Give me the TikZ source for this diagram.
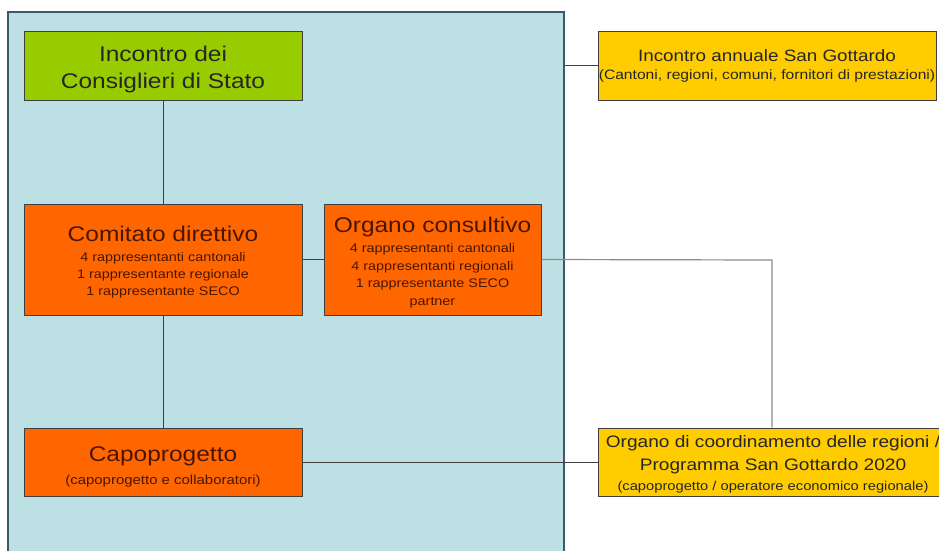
\documentclass[tikz,border=0pt]{standalone}
\usepackage{fontspec}
\setmainfont{Liberation Sans}[FakeStretch=1.15]

\definecolor{panelblue}{HTML}{BDE0E4}
\definecolor{paneledge}{HTML}{3E5866}
\definecolor{boxgreen}{HTML}{99CC00}
\definecolor{boxorange}{HTML}{FF6600}
\definecolor{boxyellow}{HTML}{FFCC00}
\definecolor{inkbrown}{HTML}{4A1600}

\tikzset{
  box/.style={draw=black!75, line width=1pt, inner sep=0pt, align=center},
  greenbox/.style={box, fill=boxgreen, text=black!85},
  orangebox/.style={box, fill=boxorange, text=inkbrown},
  yellowbox/.style={box, fill=boxyellow, text=black!85},
  link/.style={line width=1pt, draw=black!75}
}

\newcommand{\boxtitle}[1]{{\fontsize{21.3}{24}\selectfont #1}}
\newcommand{\lift}[1]{\rule{0pt}{#1}}

\begin{document}
\begin{tikzpicture}[x=1pt,y=-1pt]
  \useasboundingbox (0,0) rectangle (939,551);
  \clip (0,0) rectangle (939,551);

  % blue panel
  \node[draw=paneledge, fill=panelblue, line width=1.2pt, minimum width=556pt,
        minimum height=588pt, inner sep=0pt] (panel) at (286,306) {};

  \node[greenbox, minimum width=278pt, minimum height=68pt,
        font=\fontsize{21.3}{27}\selectfont] (incontro) at (163,66)
    {\lift{21.5pt}Incontro dei\\Consiglieri di Stato};

  \node[orangebox, minimum width=278pt, minimum height=111pt,
        font=\fontsize{12.5}{17}\selectfont] (comitato) at (163,259.5)
    {\lift{21.5pt}\boxtitle{Comitato direttivo}\\[3pt]4 rappresentanti cantonali\\1 rappresentante regionale\\1 rappresentante SECO};

  \node[orangebox, minimum width=217pt, minimum height=111pt,
        font=\fontsize{12.5}{17.5}\selectfont] (organo) at (432.5,259.5)
    {\lift{21.5pt}\boxtitle{Organo consultivo}\\[2.5pt]4 rappresentanti cantonali\\4 rappresentanti regionali\\1 rappresentante SECO\\partner};

  \node[orangebox, minimum width=278pt, minimum height=68pt,
        font=\fontsize{13}{13}\selectfont] (capo) at (163,462)
    {\lift{25pt}{\fontsize{21.3}{22}\selectfont Capoprogetto}\\[8pt](capoprogetto e collaboratori)};

  \node[yellowbox, minimum width=338pt, minimum height=68pt,
        font=\fontsize{13.6}{16}\selectfont] (annuale) at (767,66)
    {{\fontsize{16.4}{18}\selectfont Incontro annuale San Gottardo}\\[2pt](Cantoni, regioni, comuni, fornitori di prestazioni)};

  \node[yellowbox, minimum width=350pt, minimum height=68pt,
        font=\fontsize{16.6}{23}\selectfont] (coord) at (773,462)
    {\lift{16pt}Organo di coordinamento delle regioni /\\Programma San Gottardo 2020\\[-3pt]{\fontsize{12.8}{15}\selectfont (capoprogetto / operatore economico regionale)}};

  \coordinate (bend) at (772,260);

  \draw[link] (incontro) -- (comitato);
  \draw[link] (comitato) -- (capo);
  \draw[link] (comitato) -- (organo);
  \draw[link] (capo) -- (coord);
  \draw[link] (annuale.west) -- (annuale.west -| panel.east);
  \draw[line width=1.2pt, draw=black!45] (organo.east) -- (bend) -- (bend |- coord.north);
\end{tikzpicture}
\end{document}
